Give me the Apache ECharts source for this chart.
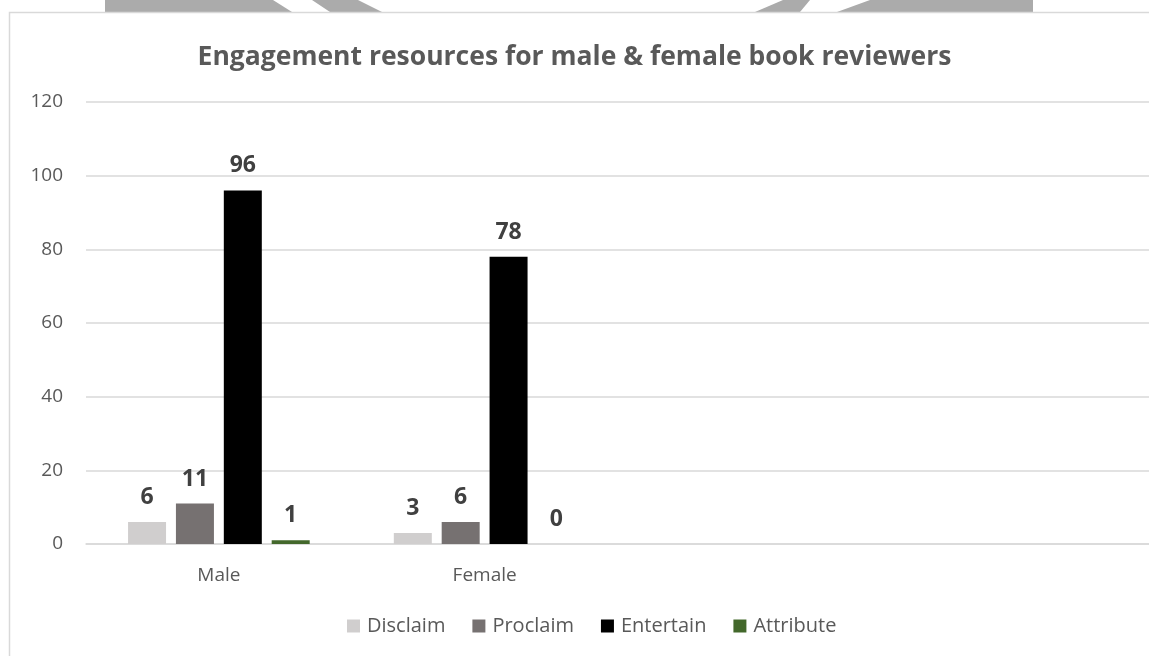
<!DOCTYPE html>
<html>
<head>
<meta charset="utf-8">
<script src="https://cdn.jsdelivr.net/npm/echarts@6/dist/echarts.min.js"></script>
<style>
  html, body { margin: 0; padding: 0; background: #fff; }
  #chart { width: 1149px; height: 656px; }
</style>
</head>
<body>
<div id="chart"></div>
<script>
'use strict'
// categories (the two blank slots are empty categories in the original sheet)
var categories = ['Male', 'Female', '', ''];
var disclaim = [6, 3, null, null];
var proclaim = [11, 6, null, null];
var entertain = [96, 78, null, null];
var attribute = [1, 0, null, null];
var yTicks = [0, 20, 40, 60, 80, 100, 120];

var FONT = '"Open Sans", "Noto Sans", sans-serif';
var chart = echarts.init(document.getElementById('chart'));

function barSeries(name, data, color) {
  return {
    name: name,
    type: 'bar',
    data: data,
    barWidth: 38,
    barGap: '26%',
    itemStyle: { color: color },
    label: {
      show: true,
      position: 'top',
      distance: 13,
      fontFamily: FONT,
      fontSize: 23,
      fontWeight: 'bold',
      color: '#404040'
    }
  };
}

chart.setOption({
  animation: false,
  title: {
    text: 'Engagement resources for male & female book reviewers',
    left: 'center',
    top: 39,
    textStyle: { fontFamily: FONT, fontSize: 26.5, fontWeight: 'bold', color: '#595959' }
  },
  graphic: [
    // faded logo watermark peeking above the chart frame
    { type: 'polygon', silent: true, shape: { points: [[105, 0], [273, 0], [292, 12], [105, 12]] }, style: { fill: '#ababab' } },
    { type: 'polygon', silent: true, shape: { points: [[312, 0], [358, 0], [382, 12], [330, 12]] }, style: { fill: '#ababab' } },
    { type: 'polygon', silent: true, shape: { points: [[783, 0], [810, 0], [800, 12], [755, 12]] }, style: { fill: '#ababab' } },
    { type: 'polygon', silent: true, shape: { points: [[870, 0], [1033, 0], [1033, 12], [837, 12]] }, style: { fill: '#ababab' } },
    // chart frame
    { type: 'rect', silent: true, shape: { x: 9.5, y: 12.5, width: 1200, height: 700 }, style: { fill: null, stroke: '#d9d9d9', lineWidth: 1.5 } }
  ],
  color: ['#d0cece', '#767171', '#000000', '#43682b'],
  legend: {
    data: ['Disclaim', 'Proclaim', 'Entertain', 'Attribute'],
    left: 342,
    top: 611,
    icon: 'rect',
    itemWidth: 13,
    itemHeight: 13,
    itemGap: 27,
    textStyle: { fontFamily: FONT, fontSize: 20, color: '#595959', padding: [0, 0, 0, 2] }
  },
  grid: {
    left: 86,
    width: 1074,
    top: 102,
    bottom: 112,
    containLabel: false
  },
  xAxis: {
    type: 'category',
    data: categories,
    axisLine: { lineStyle: { color: '#d9d9d9', width: 1.5 } },
    axisTick: { show: false },
    axisLabel: { fontFamily: FONT, fontSize: 19, color: '#595959', margin: 22 }
  },
  yAxis: {
    type: 'value',
    min: yTicks[0],
    max: yTicks[yTicks.length - 1],
    interval: yTicks[1] - yTicks[0],
    axisLine: { show: false },
    axisTick: { show: false },
    splitLine: { lineStyle: { color: '#d9d9d9', width: 1.5 } },
    axisLabel: { fontFamily: FONT, fontSize: 19, color: '#595959', margin: 23 }
  },
  series: [
    barSeries('Disclaim', disclaim, '#d0cece'),
    barSeries('Proclaim', proclaim, '#767171'),
    barSeries('Entertain', entertain, '#000000'),
    barSeries('Attribute', attribute, '#43682b')
  ]
});
</script>
</body>
</html>
